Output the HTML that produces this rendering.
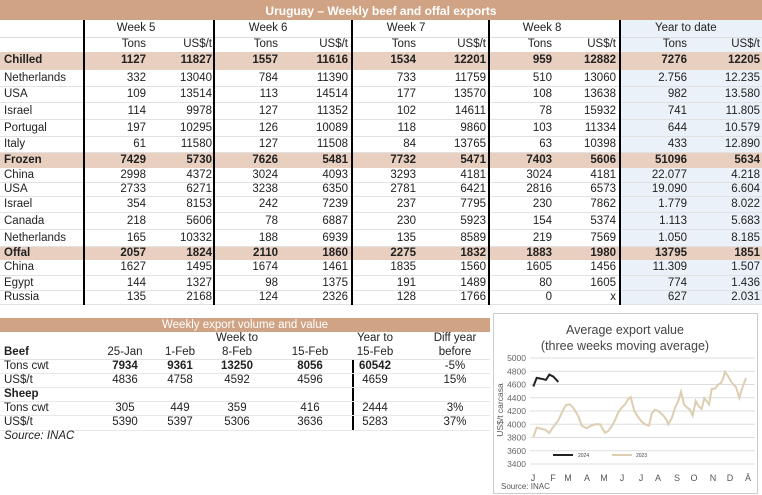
<!DOCTYPE html>
<html><head><meta charset="utf-8"><style>
*{margin:0;padding:0;box-sizing:border-box}
body{width:762px;height:495px;background:#fff;position:relative;overflow:hidden;font-family:"Liberation Sans",sans-serif;font-size:11.5px;color:#222}
.a{position:absolute;white-space:nowrap}
.bar{position:absolute;background:#cfa384;color:#fff;font-weight:bold;text-align:center}
.r{text-align:right}
</style></head><body>
<div class="bar" style="left:0;top:0;width:762px;height:20px;line-height:22px;font-size:12px">Uruguay – Weekly beef and offal exports</div>
<div class="a" style="left:619px;top:20px;width:143px;height:285px;background:#ebf1f9"></div>
<div id="t"></div>
<div class="bar" style="left:0;top:318px;width:490px;height:14px;line-height:14px;font-size:11.5px;font-weight:normal">Weekly export volume and value</div>
<div class="a" style="left:352px;top:359px;width:1.5px;height:72px;background:#000"></div>
<div id="b"></div>
<div class="a" style="left:493px;top:313px;width:265px;height:181px;border:1px solid #ccc"></div>
<svg class="a" style="left:0;top:0" width="762" height="495" id="s"></svg>
<script>
var T=document.getElementById('t'),h='';
function tx(x,y,s,al,w,b,fs){h+='<div class="a" style="'+(al=='r'?'right:'+(762-x):'left:'+x)+'px;top:'+y+'px;'+(b?'font-weight:bold;':'')+(fs?'font-size:'+fs+'px;':'')+'">'+s+'</div>';}
var rows=[[52,70,1,'Chilled','1127 11827 1557 11616 1534 12201 959 12882 7276 12205'],
[70,87,0,'Netherlands','332 13040 784 11390 733 11759 510 13060 2.756 12.235'],
[87,103,0,'USA','109 13514 113 14514 177 13570 108 13638 982 13.580'],
[103,120,0,'Israel','114 9978 127 11352 102 14611 78 15932 741 11.805'],
[120,137,0,'Portugal','197 10295 126 10089 118 9860 103 11334 644 10.579'],
[137,153,0,'Italy','61 11580 127 11508 84 13765 63 10398 433 12.890'],
[153,168,1,'Frozen','7429 5730 7626 5481 7732 5471 7403 5606 51096 5634'],
[168,183,0,'China','2998 4372 3024 4093 3293 4181 3024 4181 22.077 4.218'],
[183,197,0,'USA','2733 6271 3238 6350 2781 6421 2816 6573 19.090 6.604'],
[197,213,0,'Israel','354 8153 242 7239 237 7795 230 7862 1.779 8.022'],
[213,230,0,'Canada','218 5606 78 6887 230 5923 154 5374 1.113 5.683'],
[230,247,0,'Netherlands','165 10332 188 6939 135 8589 219 7569 1.050 8.185'],
[247,260,1,'Offal','2057 1824 2110 1860 2275 1832 1883 1980 13795 1851'],
[260,276,0,'China','1627 1495 1674 1461 1835 1560 1605 1456 11.309 1.507'],
[276,291,0,'Egypt','144 1327 98 1375 191 1489 80 1605 774 1.436'],
[291,305,0,'Russia','135 2168 124 2326 128 1766 0 x 627 2.031']];
var ends=[146,212,278,348,416,486,552,616,687,760];
h+='<div class="a" style="left:0;top:37px;width:762px;height:1px;background:#ddd"></div>';
rows.forEach(function(r){
 if(r[2])h+='<div class="a" style="left:0;top:'+r[0]+'px;width:762px;height:'+(r[1]-r[0])+'px;background:#e8cfc0"></div>';
 else h+='<div class="a" style="left:0;top:'+(r[1]-1)+'px;width:762px;height:1px;background:#e2e2e2"></div>';
});
rows.forEach(function(r){
 var y=(r[0]+r[1])/2-7;
 tx(4,y,r[3],'l',0,r[2]);
 r[4].split(' ').forEach(function(v,i){tx(ends[i],y,v,'r',0,r[2]);});
});
[['Week','5',146],['Week','6',278],['Week','7',416],['Week','8',552]].forEach(function(w){tx(w[2],22,w[0],'r');tx(w[2]+3,22,w[1]);});
tx(655,22,'Year to date');
for(var i=0;i<10;i+=2){tx(ends[i],38,'Tons','r');tx(ends[i+1],38,'US$/t','r');}
[83,213,351,488,619].forEach(function(x){h+='<div class="a" style="left:'+x+'px;top:20px;width:1.5px;height:285px;background:#000"></div>';});
T.innerHTML=h;
h='';
var cx=[125,180,237,310,375,455];
function c(x,y,s,b){h+='<div class="a" style="left:'+(x-40)+'px;width:80px;text-align:center;top:'+y+'px;'+(b?'font-weight:bold':'')+'">'+s+'</div>';}
c(237,332,'Week to');c(375,332,'Year to');c(455,332,'Diff year');
tx(4,346,'Beef','l',0,1);['25-Jan','1-Feb','8-Feb','15-Feb','15-Feb','before'].forEach(function(s,i){c(cx[i],346,s);});
var bl=[[360,'Tons cwt','7934 9361 13250 8056 60542 -5%',1],[374,'US$/t','4836 4758 4592 4596 4659 15%',0],[402,'Tons cwt','305 449 359 416 2444 3%',0],[416,'US$/t','5390 5397 5306 3636 5283 37%',0]];
h+='<div class="a" style="left:0;top:359px;width:490px;height:1px;background:#e2e2e2"></div>';
[373,387,401,415,430].forEach(function(y){h+='<div class="a" style="left:0;top:'+y+'px;width:490px;height:1px;background:#e8e8e8"></div>';});
tx(4,388,'Sheep','l',0,1);
bl.forEach(function(r){tx(4,r[0],r[1]);r[2].split(' ').forEach(function(v,i){c(cx[i],r[0],v,r[3]&&i<5);});});
h+='<div class="a" style="left:4px;top:430px;font-style:italic">Source: INAC</div>';
document.getElementById('b').innerHTML=h;
var s='';
function Y(v){return 358+(5000-v)/1600*106;}
for(var v=3400;v<=5000;v+=200){s+='<line x1="530" x2="755" y1="'+Y(v)+'" y2="'+Y(v)+'" stroke="#ddd" stroke-width="1"/>';
 s+='<text x="526" y="'+(Y(v)+3)+'" text-anchor="end" font-size="8.5" fill="#666" font-family="Liberation Sans">'+v+'</text>';}
var d23=[[130,3800],[140,3950],[155,3930],[165,3920],[178,3870],[190,3960],[205,4060],[218,4200],[228,4290],[240,4300],[250,4250],[265,4120],[275,3980],[290,3940],[300,3970],[315,4000],[330,4000],[345,3870],[355,3900],[365,3970],[375,4060],[385,4180],[395,4250],[405,4300],[415,4380],[422,4410],[433,4200],[443,4120],[453,4050],[465,4000],[477,3980],[485,4160],[495,4220],[505,4200],[520,4130],[530,4060],[535,4000],[545,4090],[555,4250],[565,4350],[573,4490],[582,4300],[592,4250],[600,4220],[608,4130],[617,4350],[625,4280],[635,4230],[643,4390],[650,4350],[657,4300],[665,4530],[675,4540],[685,4600],[693,4620],[700,4700],[705,4790],[715,4720],[725,4630],[738,4560],[748,4400],[755,4520],[768,4700]];
var d24=[[130,4570],[140,4700],[150,4690],[160,4680],[168,4670],[178,4750],[190,4720],[205,4640]];
function pl(d,col,w){return '<polyline fill="none" stroke="'+col+'" stroke-width="'+w+'" points="'+d.map(function(p){return (490+p[0]/3).toFixed(1)+','+Y(p[1]).toFixed(1);}).join(' ')+'"/>';}
s+=pl(d23,'#ddceb2',2)+pl(d24,'#222',2);
s+='<line x1="553" x2="573" y1="455" y2="455" stroke="#222" stroke-width="2"/><text x="578" y="457" font-size="5" fill="#444">2024</text>';
s+='<line x1="612" x2="632" y1="455" y2="455" stroke="#ddceb2" stroke-width="2"/><text x="636" y="457" font-size="5" fill="#444">2023</text>';
s+='<text x="625" y="334" text-anchor="middle" font-size="12.5" fill="#444" font-family="Liberation Sans">Average export value</text>';
s+='<text x="625" y="350" text-anchor="middle" font-size="12.5" fill="#444" font-family="Liberation Sans">(three weeks moving average)</text>';
s+='<text transform="translate(503,410) rotate(-90)" text-anchor="middle" font-size="8.5" fill="#555" font-family="Liberation Sans">US$/t carcasa</text>';
[['J',533],['F',553],['M',568],['A',587],['M',604],['J',622],['J',641],['A',658],['S',677],['O',694],['N',713],['D',730],['Ā',748]].forEach(function(m){s+='<text x="'+m[1]+'" y="481" text-anchor="middle" font-size="9" fill="#555" font-family="Liberation Sans">'+m[0]+'</text>';});
s+='<text x="501" y="489" font-size="8" fill="#555" font-family="Liberation Sans">Source: INAC</text>';
document.getElementById('s').innerHTML=s;
</script>
</body></html>
